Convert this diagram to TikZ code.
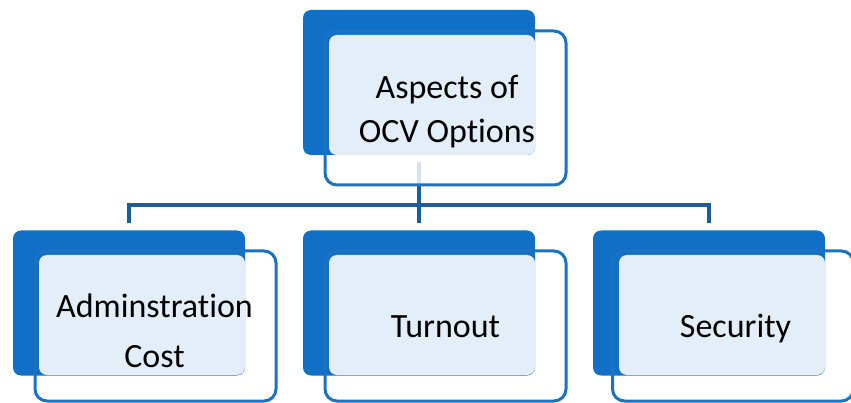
\documentclass[tikz,border=0pt]{standalone}
\usepackage{fontspec}
\setmainfont{Carlito}[Ligatures={NoCommon}]
\usetikzlibrary{calc}
\definecolor{darkb}{HTML}{1170C6}
\definecolor{outb}{HTML}{1A72C4}
\definecolor{lightb}{HTML}{E4EEF8}
\definecolor{connb}{HTML}{1B5E9E}
\pgfdeclarelayer{background}
\pgfsetlayers{background,main}
\tikzset{
  darkbox/.style={fill=darkb, draw=none, rounded corners=8pt, inner sep=0pt, outer sep=0pt, minimum width=232pt, minimum height=145pt},
  lightbox/.style={fill=lightb, draw=none, rounded corners=8pt, inner sep=0pt, outer sep=0pt, minimum width=206pt, minimum height=120pt},
  outbox/.style={draw=outb, line width=3pt, rounded corners=12pt, inner sep=0pt, outer sep=0pt, minimum width=241pt},
  label/.style={align=center, inner sep=0pt, anchor=base, font=\fontsize{34}{44}\selectfont},
  conn/.style={draw=connb, line width=4pt},
  faint/.style={draw=connb!18, line width=4pt}
}
\begin{document}
\begin{tikzpicture}[x=1pt,y=-1pt]
\useasboundingbox (0,0) rectangle (851,403);
% top
\node[darkbox] (tdark) at (419,82.5) {};
\node[outbox, minimum height=154pt] (tout) at (445.5,108) {};
\node[lightbox] (tlight) at (432,95) {};
\node[label] (ttext) at (447,143) {Aspects of\\OCV Options};
% left
\node[darkbox] (ldark) at (129,303) {};
\node[outbox, minimum height=150pt] (lout) at (155.5,326) {};
\node[lightbox] (llight) at (142,315) {};
\node[label, font=\fontsize{34}{50}\selectfont] (ltext) at (154.5,367) {Adminstration\\Cost};
% middle
\node[darkbox] (mdark) at (419,303) {};
\node[outbox, minimum height=150pt] (mout) at (445.5,326) {};
\node[lightbox] (mlight) at (432,315) {};
\node[label] (mtext) at (445.5,337) {Turnout};
% right
\node[darkbox] (rdark) at (709,303) {};
\node[outbox, minimum height=150pt] (rout) at (733,326) {};
\node[lightbox] (rlight) at (722,315) {};
\node[label] (rtext) at (735.5,337) {Security};
% connectors
\coordinate (bus) at ($(tdark.south)+(0,50)$);
\begin{pgfonlayer}{background}
\draw[faint] ([yshift=-7pt]tdark.south) -- (tdark.south |- tout.south);
\draw[conn] (tdark.south |- tout.south) -- (bus);
\draw[conn] ([yshift=7pt]ldark.north) |- (bus) -| ([yshift=7pt]rdark.north);
\draw[conn] ([yshift=7pt]mdark.north) -- (mdark.north |- bus);
\end{pgfonlayer}
\end{tikzpicture}
\end{document}
